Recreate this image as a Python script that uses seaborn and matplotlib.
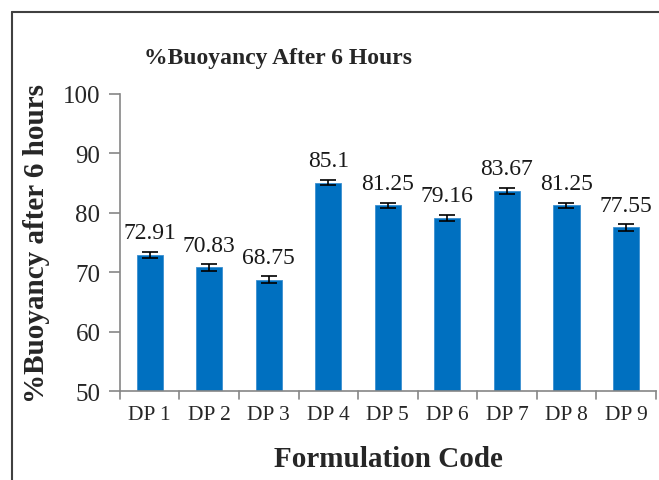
import matplotlib
matplotlib.use('Agg')
import matplotlib.pyplot as plt
import seaborn as sns
import pandas as pd
from matplotlib.lines import Line2D

# Data
codes = ['DP 1', 'DP 2', 'DP 3', 'DP 4', 'DP 5', 'DP 6', 'DP 7', 'DP 8', 'DP 9']
buoyancy = [72.91, 70.83, 68.75, 85.1, 81.25, 79.16, 83.67, 81.25, 77.55]
errors = [0.55, 0.55, 0.55, 0.5, 0.45, 0.55, 0.45, 0.45, 0.55]

df = pd.DataFrame({'code': codes, 'buoyancy': buoyancy, 'err': errors})

sns.set_style('ticks')
plt.rcParams['font.family'] = ['Liberation Serif', 'DejaVu Serif']

fig = plt.figure(figsize=(6.59, 4.81), dpi=100)
ax = fig.add_axes([0.182, 0.185, 0.813, 0.6175])

sns.barplot(data=df, x='code', y='buoyancy', color='#0070C0', width=0.44,
            edgecolor='#3a8fd0', linewidth=0.6, saturation=1, errorbar=None, ax=ax)
ax.errorbar(range(len(df)), df['buoyancy'], yerr=df['err'], fmt='none',
            ecolor='black', elinewidth=1.2, capsize=5.5, capthick=1.2)

# value labels
for i, v in enumerate(df['buoyancy']):
    ax.text(i, v + 2.8, f'{v:g}', ha='center', va='baseline', fontsize=17, color='#1a1a1a')

ax.set_ylim(50, 100)
ax.set_yticks([50, 60, 70, 80, 90, 100])
ax.set_xlim(-0.5, len(df) - 0.5)
sns.despine(ax=ax)
for s in ['left', 'bottom']:
    ax.spines[s].set_color('#868686')
    ax.spines[s].set_linewidth(1.2)
ax.tick_params(axis='y', labelsize=18, length=8, width=1.2, color='#868686', pad=6)
ax.tick_params(axis='x', length=0, labelsize=15.5, pad=10)
# category boundary ticks on the x axis like Excel
for b in range(len(df) + 1):
    ax.plot([b - 0.5, b - 0.5], [50, 48.6], color='#868686', lw=1.2, clip_on=False)

ax.set_xlabel('')
ax.set_ylabel('')
fig.text(0.055, 0.494, '%Buoyancy after 6 hours', rotation=90, ha='center', va='center',
         fontsize=21, fontweight='bold')
fig.text(0.59, 0.044, 'Formulation Code', ha='center', va='center',
         fontsize=21, fontweight='bold')
fig.text(0.422, 0.879, '%Buoyancy After 6 Hours', ha='center', va='center',
         fontsize=17, fontweight='bold')

# chart border (cropped at right and bottom)
fig.add_artist(Line2D([0.0175, 1.0], [0.973, 0.973], color='#404040', lw=1.5))
fig.add_artist(Line2D([0.0175, 0.0175], [0.0, 0.973], color='#404040', lw=1.5))

fig.savefig('out.png', dpi=100)
